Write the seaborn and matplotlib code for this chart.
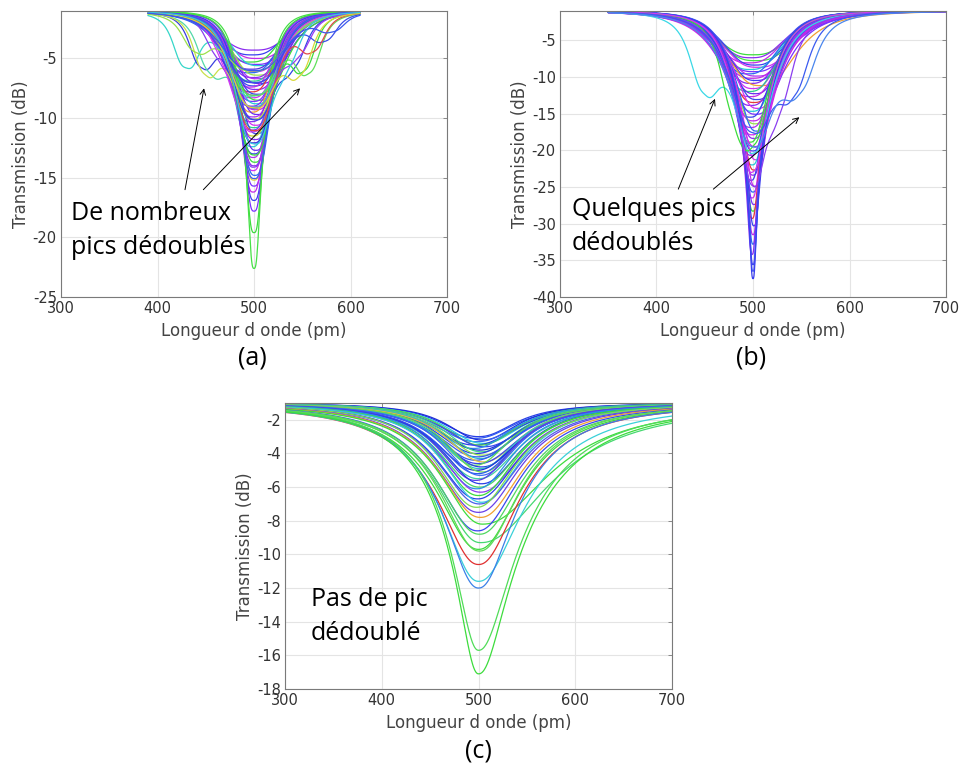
import numpy as np
import pandas as pd
import matplotlib
matplotlib.use("Agg")
import matplotlib.pyplot as plt
import seaborn as sns

BASE = -1.0  # off-resonance level (dB)

# ---------------- panel (a) ----------------
# main dip at 500 pm: depth at the dip (dB), half width (pm), centre shift (pm)
a_depth = [-4.3, -4.7, -5.0, -5.3, -5.5, -5.6, -5.9, -6.1, -6.2, -6.4,
           -6.6, -6.7, -6.9, -7.1, -7.3, -7.4, -7.6, -7.8, -8.0, -8.1,
           -8.3, -8.5, -8.6, -8.8, -9.0, -9.2, -9.3, -9.5, -9.7, -9.9,
           -10.1, -10.3, -10.6, -10.8, -11.0, -11.3, -11.5, -11.8, -12.1, -12.4,
           -12.7, -13.0, -13.3, -13.7, -14.0, -14.4, -14.8, -15.2, -15.7, -16.2,
           -16.9, -17.8, -19.6, -22.6]
a_width = [48, 44, 46, 42, 45, 41, 43, 40, 44, 39,
           42, 38, 41, 43, 39, 37, 41, 38, 40, 36,
           39, 42, 37, 38, 40, 36, 39, 35, 38, 37,
           36, 39, 35, 37, 38, 34, 36, 37, 34, 35,
           33, 35, 33, 34, 32, 32, 33, 31, 31, 29,
           29, 27, 26, 24]
a_shift = [0, -2, 3, -4, 2, 5, -3, 1, -5, 4,
           -1, 3, -2, 6, 0, -4, 2, -3, 4, 1,
           -2, 5, -1, 3, -3, 0, 2, -2, 4, -1,
           1, -3, 2, 0, -2, 3, -1, 1, 0, -2,
           2, 0, -1, 1, 0, -1, 1, 0, 0, -1,
           0, 0, 0, 0]
a_colors = ["#8b2cf0", "#3a3ff0", "#c42ae8", "#3ddc3d", "#7a30ff", "#26c9d6",
            "#5a2de0", "#d030f0", "#2a6af2", "#9ae04a", "#8b2cf0", "#b030f0",
            "#2cd08c", "#6a2cf0", "#3b4be8", "#c42ae8", "#8b2cf0", "#e53b3b",
            "#3a3ff0", "#a02cf0", "#d030f0", "#3ddc3d", "#7a30ff", "#26c9d6",
            "#8b2cf0", "#2a6af2", "#c42ae8", "#f0a032", "#6a2cf0", "#b030f0",
            "#3a3ff0", "#8b2cf0", "#d030f0", "#2cd08c", "#7a30ff", "#3b4be8",
            "#c8d22a", "#8b2cf0", "#c42ae8", "#26c9d6", "#6a2cf0", "#3a3ff0",
            "#b030f0", "#3ddc3d", "#8b2cf0", "#d030f0", "#2a6af2", "#e0d040",
            "#7a30ff", "#c42ae8", "#3a3ff0", "#7a30ff", "#3ddc3d", "#46e046"]
# curves with a split (doubled) resonance
a_split_depth = [-9.0, -12.0, -8.0, -10.0, -14.0, -7.0, -6.0, -11.0, -10.0,
                 -13.0, -8.0, -15.0, -9.0, -7.0, -11.0, -9.0, -12.0, -6.0]
a_split_width = [40, 36, 41, 38, 33, 44, 46, 37, 38, 35, 41, 32, 39, 43, 37, 39, 35, 46]
a_side_pos = [430, 446, 455, 450, 462, 468, 440, 470, 541,
              551, 556, 527, 545, 572, 560, 547, 535, 580]
a_side_depth = [-5.8, -5.8, -6.3, -6.4, -5.0, -4.2, -4.5, -6.0, -5.9,
                -6.1, -6.3, -5.4, -5.0, -3.6, -4.5, -6.5, -6.0, -2.8]
a_side_width = [18, 17, 18, 17, 16, 16, 18, 16, 17, 17, 18, 16, 17, 17, 17, 18, 16, 17]
a_split_colors = ["#36d6c8", "#3a3fe0", "#52d8a8", "#c8e04a", "#8b3ef0", "#5a4ce8",
                  "#9ae04a", "#d23cf0", "#3046e6", "#3ddc3d", "#5fe05a", "#3a5af0",
                  "#9b3cf0", "#3a4ee8", "#e04a4a", "#d8d838", "#36c8e0", "#3a58ee"]

# ---------------- panel (b) ----------------
b_depth = [-7.0, -7.4, -7.8, -8.1, -8.4, -8.7, -9.0, -9.3, -9.6, -9.9,
           -10.2, -10.5, -10.9, -11.2, -11.6, -12.0, -12.3, -12.7, -13.1, -13.5,
           -13.9, -14.3, -14.7, -15.1, -15.5, -16.0, -16.4, -16.9, -17.4, -17.9,
           -18.4, -18.9, -19.5, -20.1, -20.7, -21.3, -22.0, -22.7, -23.4, -24.1,
           -24.9, -25.7, -26.5, -27.4, -28.3, -29.3, -30.3, -31.5, -32.8, -34.2,
           -35.6, -36.5, -37.5]
b_width = [58, 53, 61, 55, 51, 59, 54, 62, 52, 56,
           59, 52, 54, 62, 50, 56, 52, 58, 50, 54,
           56, 50, 52, 58, 49, 54, 50, 55, 48, 51,
           50, 47, 53, 48, 51, 46, 48, 45, 48, 46,
           45, 46, 44, 45, 44, 43, 44, 43, 42, 43,
           42, 41, 42]
b_shift = [0, -2, 3, -4, 2, 5, -3, 1, -5, 4,
           -1, 3, -2, 8, 0, -4, 2, -3, 4, 1,
           -2, 5, -1, 3, -3, 0, 2, -2, 4, -1,
           1, -3, 2, 0, -2, 3, -1, 1, 0, -2,
           2, 0, -1, 1, 0, -1, 1, 0, 0, -1,
           0, 0, 0]
b_colors = ["#3ddc3d", "#8b2cf0", "#46e046", "#c42ae8", "#3a3ff0", "#d030f0",
            "#26c9d6", "#7a30ff", "#2a6af2", "#b030f0", "#c42ae8", "#3a3ff0",
            "#8b2cf0", "#f0a032", "#d030f0", "#2cd08c", "#6a2cf0", "#c42ae8",
            "#3b4be8", "#e53b3b", "#8b2cf0", "#d030f0", "#26c9d6", "#7a30ff",
            "#3a3ff0", "#c42ae8", "#9ae04a", "#b030f0", "#2a6af2", "#d030f0",
            "#8b2cf0", "#3ddc3d", "#c42ae8", "#3a3ff0", "#7a30ff", "#d030f0",
            "#26c9d6", "#e53b3b", "#8b2cf0", "#3a3ff0", "#c42ae8", "#2a6af2",
            "#d030f0", "#7a30ff", "#3ddc3d", "#e53b3b", "#3a3ff0", "#c42ae8",
            "#2a6af2", "#8b2cf0", "#3a3ff0", "#4a60f0", "#3a3ff0"]
b_split_depth = [-20.0, -18.0, -22.0, -24.0, -17.0, -19.0]
b_split_width = [50, 44, 44, 50, 52, 56]
b_side_pos = [450, 479, 486, 528, 542, 548]
b_side_depth = [-12.4, -15.9, -16.3, -15.0, -12.8, -12.4]
b_side_width = [24, 18, 17, 19, 24, 26]
b_split_colors = ["#3ad8e6", "#3ddc3d", "#d23cf0", "#8b3ef0", "#3a5af0", "#4a86ee"]

# ---------------- panel (c) ----------------
c_depth = [-3.0, -3.1, -3.2, -3.3, -3.4, -3.5, -3.5, -3.6, -3.7, -3.8,
           -3.9, -4.0, -4.1, -4.2, -4.3, -4.4, -4.5, -4.6, -4.7, -4.8,
           -4.9, -5.0, -5.1, -5.2, -5.3, -5.5, -5.6, -5.8, -6.0, -6.1,
           -6.3, -6.5, -6.7, -6.9, -7.0, -7.2, -7.5, -7.8, -8.2, -8.6,
           -8.8, -9.3, -9.7, -9.8, -10.6, -11.6, -12.0, -15.7, -17.1]
c_width_l = [50, 55, 48, 58, 52, 60, 50, 56, 53, 58,
             51, 57, 54, 60, 52, 58, 55, 61, 53, 59,
             56, 62, 54, 60, 57, 63, 58, 62, 64, 60,
             66, 63, 68, 65, 70, 67, 72, 74, 76, 78,
             80, 82, 84, 80, 86, 84, 82, 78, 80]
c_width_r = [50, 55, 48, 58, 52, 60, 50, 56, 53, 58,
             51, 57, 54, 60, 52, 58, 55, 61, 53, 59,
             56, 62, 54, 60, 57, 63, 58, 62, 64, 60,
             66, 63, 68, 65, 70, 67, 72, 74, 120, 78,
             80, 130, 84, 80, 86, 100, 84, 110, 115]
c_shift = [0, -3, 4, -2, 5, -4, 2, 6, -5, 1,
           3, -2, 4, -1, 2, -3, 5, 0, -4, 3,
           1, -2, 4, -1, 2, 0, -3, 3, 1, -2,
           2, 0, -1, 3, 1, -2, 0, 2, 4, -1,
           1, 2, 0, 1, 0, 0, 0, 0, 0]
c_colors = ["#2a3fe6", "#2f5af0", "#1f30d8", "#3a6af2", "#2ad0e0", "#2a3fe6", "#50d050",
            "#3a46f0", "#2a90e8", "#1f30d8", "#3fd88a", "#2a3fe6", "#8fe04a", "#3a58ee",
            "#2ab8d0", "#2f5af0", "#e0c040", "#3a46f0", "#5ad45a", "#2a3fe6", "#30c8c0",
            "#1f30d8", "#70d850", "#2f5af0", "#3a6af2", "#40d0a0", "#5a3ce8", "#2a3fe6",
            "#4ad860", "#2a90e8", "#8b3ef0", "#3ddc3d", "#2a3fe6", "#36c8e0", "#4a60e8",
            "#80dc50", "#6a40e8", "#f0a030", "#3ddc3d", "#3a46f0", "#50d860", "#46d870",
            "#3ddc3d", "#60d858", "#e03030", "#3ad0d8", "#3a80e8", "#50dc58", "#3ddc3d"]


def dip(x, x0, depth_rel, gl, gr, p):
    a = 1 - 10 ** (depth_rel / 10)
    g = np.where(x < x0, gl, gr)
    return 10 * np.log10(1 - a / (1 + np.abs((x - x0) / g) ** p))


def build_panel(tag, x, p, depths, wl, wr, shifts, colors,
                split_depth=(), split_width=(), side_pos=(), side_depth=(),
                side_width=(), split_colors=()):
    frames, pal = [], {}
    for i, d in enumerate(depths):
        x0 = 500 + shifts[i]
        y = BASE + dip(x, x0, d - BASE, wl[i], wr[i], p)
        key = f"{tag}{i}"
        frames.append(pd.DataFrame({"x": x, "y": y, "curve": key}))
        pal[key] = colors[i]
    for j, d in enumerate(split_depth):
        g = split_width[j]
        main = dip(x, 500, d - BASE, g, g, p)
        at_side = dip(np.array([side_pos[j]]), 500, d - BASE, g, g, p)[0]
        side_rel = min(side_depth[j] - BASE - at_side, -0.2)
        side = dip(x, side_pos[j], side_rel, side_width[j], side_width[j], p)
        key = f"{tag}s{j}"
        frames.append(pd.DataFrame({"x": x, "y": BASE + main + side, "curve": key}))
        pal[key] = split_colors[j]
    return pd.concat(frames, ignore_index=True), pal


xa = np.arange(390, 610.01, 0.5)
xb = np.arange(350, 700.01, 0.5)
xc = np.arange(300, 700.01, 0.5)

df_a, pal_a = build_panel("a", xa, 3.0, a_depth, a_width, a_width, a_shift, a_colors,
                          a_split_depth, a_split_width, a_side_pos, a_side_depth,
                          a_side_width, a_split_colors)
df_b, pal_b = build_panel("b", xb, 2.9, b_depth, b_width, b_width, b_shift, b_colors,
                          b_split_depth, b_split_width, b_side_pos, b_side_depth,
                          b_side_width, b_split_colors)
df_c, pal_c = build_panel("c", xc, 2.2, c_depth, c_width_l, c_width_r, c_shift, c_colors)

sns.set_style("white")
plt.rcParams["font.family"] = ["DejaVu Sans"]
plt.rcParams["axes.unicode_minus"] = False

fig = plt.figure(figsize=(9.62, 7.63), dpi=100)
ax_a = fig.add_axes([0.0634, 0.6107, 0.4013, 0.3752])
ax_b = fig.add_axes([0.5821, 0.6107, 0.4013, 0.3752])
ax_c = fig.add_axes([0.2963, 0.0970, 0.4023, 0.3748])

panels = [
    (ax_a, df_a, pal_a, (-25, -1), np.arange(-25, -4, 5)),
    (ax_b, df_b, pal_b, (-40, -1), np.arange(-40, -4, 5)),
    (ax_c, df_c, pal_c, (-18, -1), np.arange(-18, -1, 2)),
]
for ax, df, pal, ylim, yticks in panels:
    sns.lineplot(data=df, x="x", y="y", hue="curve", palette=pal, legend=False,
                 estimator=None, sort=False, lw=0.9, ax=ax)
    ax.set_xlim(300, 700)
    ax.set_ylim(*ylim)
    ax.set_xticks([300, 400, 500, 600, 700])
    ax.set_yticks(yticks)
    ax.grid(True, color="#e4e4e4", lw=0.8)
    ax.set_axisbelow(True)
    for s in ax.spines.values():
        s.set_color("#7a7a7a")
        s.set_linewidth(0.8)
    ax.tick_params(direction="in", top=True, right=True, length=3, width=0.6,
                   color="#7a7a7a", labelcolor="#333333", labelsize=10.5, pad=3)
    ax.set_xlabel("Longueur d onde (pm)", fontsize=12, color="#444444", labelpad=4)
    ax.set_ylabel("Transmission (dB)", fontsize=12, color="#444444", labelpad=2)

big = dict(family="Open Sans", fontsize=18, color="black", linespacing=1.45)
arrow = dict(arrowstyle="->", color="black", lw=0.7, shrinkA=0, shrinkB=0)

ax_a.text(310.4, -19.4, "De nombreux\npics dédoublés", ha="left", va="center", **big)
ax_a.annotate("", xy=(448.2, -7.5), xytext=(428.5, -16.0), arrowprops=arrow)
ax_a.annotate("", xy=(547.7, -7.5), xytext=(447.5, -16.0), arrowprops=arrow)

ax_b.text(312.4, -30.4, "Quelques pics\ndédoublés", ha="left", va="center", **big)
ax_b.annotate("", xy=(460.6, -13.0), xytext=(422.6, -25.3), arrowprops=arrow)
ax_b.annotate("", xy=(548.0, -15.5), xytext=(458.9, -25.3), arrowprops=arrow)

ax_c.text(326.9, -13.7, "Pas de pic\ndédoublé", ha="left", va="center", **big)

lab = dict(family="Open Sans", fontsize=18, color="black", ha="center", va="center")
fig.text(252 / 962, 1 - 358 / 763, "(a)", **lab)
fig.text(751 / 962, 1 - 358 / 763, "(b)", **lab)
fig.text(478 / 962, 1 - 751 / 763, "(c)", **lab)

fig.savefig("out.png", dpi=100)
